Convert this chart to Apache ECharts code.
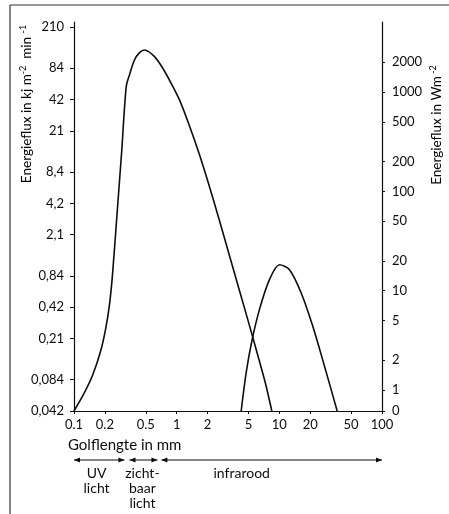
<!DOCTYPE html>
<html>
<head>
<meta charset="utf-8">
<script src="https://cdn.jsdelivr.net/npm/echarts@6/dist/echarts.min.js"></script>
<style>
  html, body { margin: 0; padding: 0; background: #fff; }
  #chart { width: 449px; height: 514px; }
</style>
</head>
<body>
<div id="chart"></div>
<script>
// golflengte (mm) en energieflux (kJ m-2 min-1)
const zonX = [0.1, 0.1237, 0.1514, 0.1812, 0.2027, 0.2217, 0.2371, 0.2635, 0.2921, 0.3224, 0.347, 0.388, 0.4347, 0.486, 0.608, 0.732, 0.884, 1.065, 1.334, 1.669, 2.088, 2.613, 3.270, 4.093, 5.122, 6.41, 7.33, 8.45];
const zonY = [0.042, 0.0606, 0.0922, 0.157, 0.2556, 0.4446, 0.8637, 3.49, 13.77, 55.6, 72.5, 101, 118.9, 126, 108.8, 84.1, 60.3, 41.7, 23.4, 12.33, 6.07, 2.858, 1.316, 0.606, 0.279, 0.1258, 0.0773, 0.042];
const aardeX = [4.25, 4.75, 5.39, 6.40, 8.01, 10.04, 12.56, 16.33, 21.18, 27.54, 36.6];
const aardeY = [0.042, 0.098, 0.197, 0.398, 0.773, 1.078, 0.965, 0.576, 0.275, 0.1133, 0.042];

// aslabels
const xTicks = [0.1, 0.2, 0.5, 1, 2, 5, 10, 20, 50, 100];
const leftTicks = [0.042, 0.084, 0.21, 0.42, 0.84, 2.1, 4.2, 8.4, 21, 42, 84, 210];
const rightTicks = [0, 1, 2, 5, 10, 20, 50, 100, 200, 500, 1000, 2000];

// gebieden onder de x-as (golflengte in mm)
const bandLabels = ['UV\nlicht', 'zicht-\nbaar\nlicht', 'infrarood'];
const bandFrom = [0.1, 0.347, 0.71];
const bandTo = [0.31, 0.65, 100];
const bandLabelAt = [0.166, 0.464, 4.3];

const FONT = 'Lato';
const INK = '#0d0d0d';

// rechteras: log-schaal zonder eigen reeks, 0 staat op het minimum
const rightMin = 0.614;
const rightMax = 5080;

const nearest = (arr, v) => arr.reduce((a, b) => Math.abs(Math.log(b / v)) < Math.abs(Math.log(a / v)) ? b : a);

const chart = echarts.init(document.getElementById('chart'));

const option = {
  animation: false,
  grid: { left: 74, top: 22, width: 308, height: 389, containLabel: false },
  xAxis: {
    type: 'log',
    min: 0.1,
    max: 100,
    axisLine: { lineStyle: { color: INK, width: 1.2 } },
    axisTick: { show: true, length: 3, customValues: xTicks, lineStyle: { color: INK } },
    axisLabel: {
      customValues: xTicks,
      margin: 7,
      fontFamily: FONT,
      fontSize: 13,
      color: INK,
      formatter: v => String(nearest(xTicks, v))
    },
    splitLine: { show: false },
    minorTick: { show: false }
  },
  yAxis: [
    {
      type: 'log',
      min: 0.042,
      max: 234.6,
      axisLine: { show: true, lineStyle: { color: INK, width: 1.2 } },
      axisTick: { show: true, length: 4, customValues: leftTicks, lineStyle: { color: INK } },
      axisLabel: {
        customValues: leftTicks,
        margin: 10,
        fontFamily: FONT,
        fontSize: 13,
        color: INK,
        formatter: v => String(nearest(leftTicks, v)).replace('.', ',')
      },
      splitLine: { show: false }
    },
    {
      type: 'log',
      position: 'right',
      min: rightMin,
      max: rightMax,
      axisLine: { show: true, lineStyle: { color: INK, width: 1.2 } },
      axisTick: { show: true, length: 3, customValues: rightTicks.map(v => v === 0 ? rightMin : v), lineStyle: { color: INK } },
      axisLabel: {
        customValues: rightTicks.map(v => v === 0 ? rightMin : v),
        margin: 10,
        fontFamily: FONT,
        fontSize: 13,
        color: INK,
        formatter: v => v < 0.9 ? '0' : String(nearest(rightTicks.slice(1), v))
      },
      splitLine: { show: false }
    }
  ],
  series: [
    {
      name: 'zon',
      type: 'line',
      data: zonX.map((x, i) => [x, zonY[i]]),
      showSymbol: false,
      smooth: 0.3,
      lineStyle: { color: INK, width: 1.6 }
    },
    {
      name: 'aarde',
      type: 'line',
      data: aardeX.map((x, i) => [x, aardeY[i]]),
      showSymbol: false,
      smooth: 0.3,
      lineStyle: { color: INK, width: 1.6 }
    }
  ]
};

chart.setOption(option);

// titels, kader en pijlen onder de x-as
const graphic = [
  { type: 'line', shape: { x1: 10, y1: 5, x2: 10, y2: 514 }, style: { stroke: '#333', lineWidth: 1.2 } },
  { type: 'line', shape: { x1: 10, y1: 5, x2: 449, y2: 5 }, style: { stroke: '#333', lineWidth: 1.2 } },
  {
    type: 'text', x: 27, y: 104, rotation: Math.PI / 2,
    style: {
      text: '{t|Energieflux in kj m}{s|-2}{t|  min }{s|-1}',
      align: 'center', verticalAlign: 'middle',
      rich: {
        t: { fontFamily: FONT, fontSize: 13.5, color: INK, lineHeight: 16 },
        s: { fontFamily: FONT, fontSize: 9, color: INK, lineHeight: 16, verticalAlign: 'top', padding: [0, 0, 6, 0] }
      }
    }
  },
  {
    type: 'text', x: 437, y: 125, rotation: Math.PI / 2,
    style: {
      text: '{t|Energieflux in Wm}{s| -2}',
      align: 'center', verticalAlign: 'middle',
      rich: {
        t: { fontFamily: FONT, fontSize: 13.5, color: INK, lineHeight: 16 },
        s: { fontFamily: FONT, fontSize: 9, color: INK, lineHeight: 16, verticalAlign: 'top', padding: [0, 0, 6, 0] }
      }
    }
  },
  {
    type: 'text', x: 68, y: 445,
    style: { text: 'Golflengte in mm', fontFamily: FONT, fontSize: 15, fill: INK, align: 'left', verticalAlign: 'middle' }
  }
];

const arrowY = 460;
const head = (x, dir) => ({
  type: 'polygon',
  shape: { points: [[x, arrowY], [x + dir * 6, arrowY - 2.5], [x + dir * 6, arrowY + 2.5]] },
  style: { fill: INK }
});
bandLabels.forEach((label, i) => {
  const x1 = chart.convertToPixel({ xAxisIndex: 0 }, bandFrom[i]);
  const x2 = chart.convertToPixel({ xAxisIndex: 0 }, bandTo[i]);
  const xl = chart.convertToPixel({ xAxisIndex: 0 }, bandLabelAt[i]);
  graphic.push({ type: 'line', shape: { x1: x1, y1: arrowY, x2: x2, y2: arrowY }, style: { stroke: INK, lineWidth: 1 } });
  graphic.push(head(x1, 1), head(x2, -1));
  graphic.push({
    type: 'text', x: xl, y: 466,
    style: { text: label, fontFamily: FONT, fontSize: 14, lineHeight: 15, fill: INK, align: 'center', verticalAlign: 'top' }
  });
});

chart.setOption({ graphic: graphic });
</script>
</body>
</html>
